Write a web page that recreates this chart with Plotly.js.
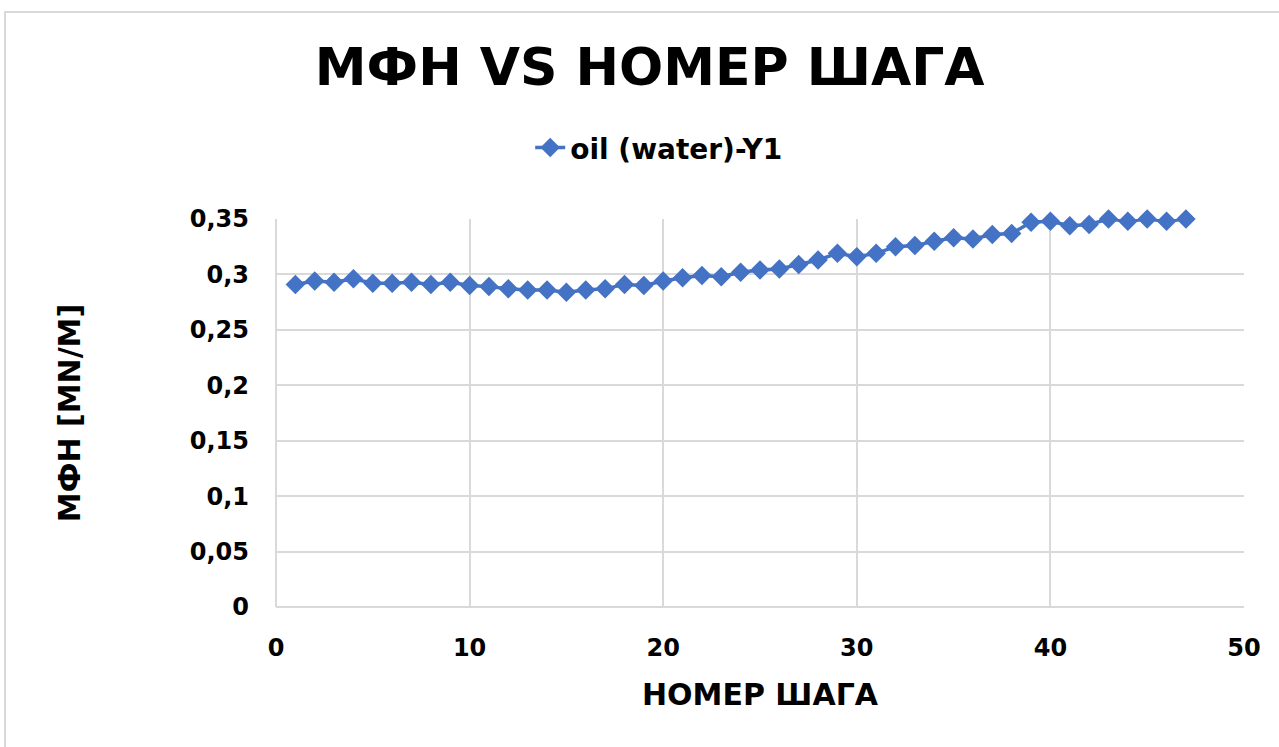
<!DOCTYPE html>
<html>
<head>
<meta charset="utf-8">
<script src="https://cdn.plot.ly/plotly-3.0.1.min.js"></script>
<style>
    body { margin: 0; background: #ffffff; }
    #frame {
        position: absolute; left: 4px; top: 11px;
        width: 1300px; height: 760px;
        border: 2px solid #d9d9d9;
    }
    #chart { position: absolute; left: 0; top: 0; width: 1279px; height: 747px; }
</style>
</head>
<body>
<div id="frame"></div>
<div id="chart"></div>
<script>
// step numbers
let steps = [];
for (let i = 1; i <= 47; i++)
    steps.push(i);

// МФН values
let ift = [
    0.291, 0.294, 0.293, 0.296, 0.292, 0.292, 0.293, 0.291, 0.293, 0.290,
    0.289, 0.287, 0.286, 0.286, 0.284, 0.286, 0.287, 0.291, 0.290, 0.294,
    0.297, 0.299, 0.298, 0.302, 0.304, 0.305, 0.309, 0.313, 0.319, 0.316,
    0.319, 0.325, 0.326, 0.330, 0.333, 0.332, 0.336, 0.337, 0.347, 0.348,
    0.344, 0.345, 0.350, 0.348, 0.350, 0.348, 0.350
];

let seriesName = "oil (water)-Y1";
let mainFont = "DejaVu Sans";

// line with diamond markers
let trace = {
    x: steps,
    y: ift,
    name: seriesName,
    type: "scatter",
    mode: "lines+markers",
    line: { color: "#4472C4", width: 3.5 },
    marker: { symbol: "diamond", size: 15, color: "#4472C4" },
    cliponaxis: false,
    showlegend: true
};

let layout = {
    width: 1279,
    height: 747,
    paper_bgcolor: "rgba(0,0,0,0)",
    plot_bgcolor: "#ffffff",
    separators: ", ",
    margin: { l: 276, r: 35, t: 219, b: 140 },
    font: { family: mainFont, color: "#000000" },
    title: {
        text: "МФН VS НОМЕР ШАГА",
        font: { family: mainFont, size: 52, weight: "bold", color: "#000000" },
        x: 0.508,
        xanchor: "center",
        y: 0.91,
        yanchor: "middle"
    },
    showlegend: true,
    legend: {
        orientation: "h",
        xref: "container",
        yref: "container",
        x: 0.515,
        xanchor: "center",
        y: 0.802,
        yanchor: "middle",
        font: { family: mainFont, size: 28, weight: "bold" }
    },
    xaxis: {
        range: [0, 50],
        dtick: 10,
        showgrid: true,
        gridcolor: "#d9d9d9",
        gridwidth: 2,
        zeroline: true,
        zerolinecolor: "#d9d9d9",
        zerolinewidth: 2,
        ticks: "",
        ticklabelstandoff: 24,
        tickfont: { family: mainFont, size: 24, weight: "bold" },
        title: {
            text: "НОМЕР ШАГА",
            font: { family: mainFont, size: 30, weight: "bold" },
            standoff: 22
        }
    },
    yaxis: {
        range: [0, 0.35],
        dtick: 0.05,
        showgrid: true,
        gridcolor: "#d9d9d9",
        gridwidth: 2,
        zeroline: true,
        zerolinecolor: "#d9d9d9",
        zerolinewidth: 2,
        ticks: "",
        ticklabelstandoff: 26,
        tickfont: { family: mainFont, size: 24, weight: "bold" },
        title: {
            text: "МФН [MN/M]",
            font: { family: mainFont, size: 30, weight: "bold" },
            standoff: 100
        }
    }
};

Plotly.newPlot("chart", [trace], layout, { displayModeBar: false, staticPlot: true });
</script>
</body>
</html>
